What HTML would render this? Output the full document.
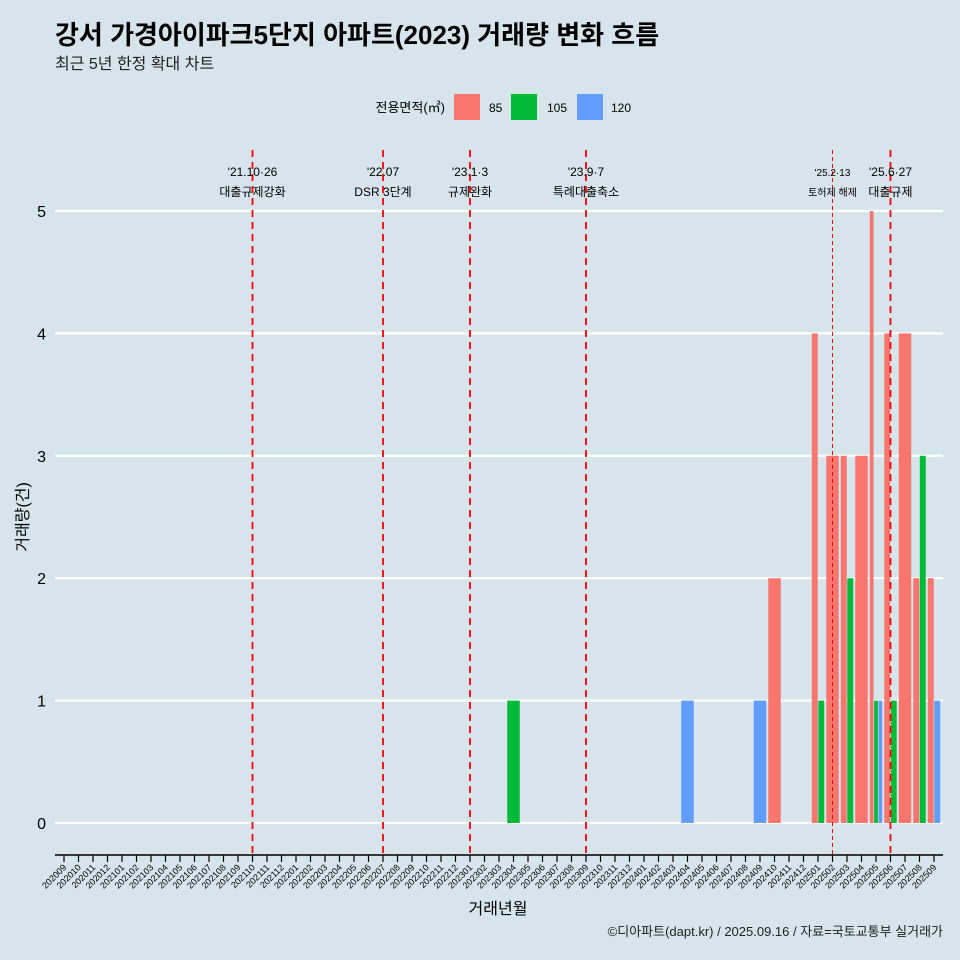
<!DOCTYPE html>
<html><head><meta charset="utf-8"><style>
body{margin:0;background:#d6e4eb}
svg{display:block;font-family:"Liberation Sans","Noto Sans CJK KR",sans-serif}
</style></head><body>
<svg id="c" width="960" height="960" viewBox="0 0 960 960">
<rect width="960" height="960" fill="#d6e4eb"/>
<text x="55" y="44" font-size="26" font-weight="bold" fill="#000">강서 가경아이파크5단지 아파트(2023) 거래량 변화 흐름</text>
<text x="55" y="69" font-size="16" fill="#222">최근 5년 한정 확대 차트</text>
<g>
<text x="445" y="112" font-size="13" text-anchor="end">전용면적(㎡)</text>
<rect x="454" y="94" width="26" height="26" fill="#f8766d"/>
<text x="489" y="112" font-size="12">85</text>
<rect x="511" y="94" width="26" height="26" fill="#00ba38"/>
<text x="547" y="112" font-size="12">105</text>
<rect x="577" y="94" width="26" height="26" fill="#619cff"/>
<text x="611" y="112" font-size="12">120</text>
</g>
<g id="grid"></g><g id="bars"></g><g id="events"></g><g id="xaxis"></g>
<text x="28" y="517" font-size="16" text-anchor="middle" transform="rotate(-90 28 517)">거래량(건)</text>
<text x="498" y="914" font-size="16" text-anchor="middle">거래년월</text>
<text x="943" y="936" font-size="13" text-anchor="end" fill="#222">©디아파트(dapt.kr) / 2025.09.16 / 자료=국토교통부 실거래가</text>
</svg>
<script>
const yTicks=[0,1,2,3,4,5];
const groups=['85','105','120'];
const colors={'85':'#f8766d','105':'#00ba38','120':'#619cff'};
const barMonths=['202304','202404','202409','202410','202501','202501','202502','202503','202503','202504','202505','202505','202505','202506','202506','202507','202508','202508','202509','202509'];
const barGroups=['105','120','120','85','85','105','85','85','105','85','85','105','120','85','105','85','85','105','85','120'];
const barValues=[1,1,1,2,4,1,3,3,2,3,5,1,1,4,1,4,2,3,2,1];
const eventMonths=['202110','202207','202301','202309','202502','202506'];
const eventLine1=["'21.10·26","'22.07","'23.1·3","'23.9·7","'25.2·13","'25.6·27"];
const eventLine2=['대출규제강화','DSR 3단계','규제완화','특례대출축소','토허제 해제','대출규제'];
const eventThin=[false,false,false,false,true,false];

const NS='http://www.w3.org/2000/svg';
function mk(t,a,p){const e=document.createElementNS(NS,t);for(const k in a)e.setAttribute(k,a[k]);p.appendChild(e);return e;}
const months=[];for(let y=2020,m=9;y*100+m<=202509;){months.push(String(y*100+m));m++;if(m>12){m=1;y++;}}
const x0=64,step=(934-64)/(months.length-1);
const xs=i=>x0+i*step;
const y=v=>823-v*122.4;
const grid=document.getElementById('grid');
yTicks.forEach(t=>{
 const l=mk('line',{x1:55,x2:943,y1:y(t),y2:y(t),stroke:'#fff','stroke-width':2.2},grid);
 
 const tx=mk('text',{x:46,y:y(t)+6,'font-size':16,'text-anchor':'end'},grid);tx.textContent=t;
 
});
const bars=document.getElementById('bars');const bw=step*0.9;
months.forEach((mo,i)=>{
 const idx=[];barMonths.forEach((b,j)=>{if(b===mo)idx.push(j);});
 idx.sort((a,b)=>groups.indexOf(barGroups[a])-groups.indexOf(barGroups[b]));
 const n=idx.length;
 idx.forEach((j,k)=>{
  const w=bw/n,left=xs(i)-bw/2+k*w;
  const r=mk('rect',{x:left+0.3,y:y(barValues[j]),width:w-0.6,height:y(0)-y(barValues[j]),fill:colors[barGroups[j]]},bars);
  
 });
});
const ev=document.getElementById('events');
eventMonths.forEach((mo,k)=>{
 const xx=xs(months.indexOf(mo));
 const l=mk('line',{x1:xx,x2:xx,y1:150,y2:855,stroke:'#ff0000','stroke-width':eventThin[k]?1:1.8,'stroke-dasharray':eventThin[k]?'4 3':'7 5'},ev);
 
 const fs=eventThin[k]?11:13;
 const t1=mk('text',{x:xx,y:176,'font-size':fs-1,'text-anchor':'middle'},ev);t1.textContent=eventLine1[k];
 
 const t2=mk('text',{x:xx,y:196,'font-size':fs-1,'text-anchor':'middle'},ev);t2.textContent=eventLine2[k];
 
});
const xa=document.getElementById('xaxis');
const ax=mk('line',{x1:55,x2:943,y1:855,y2:855,stroke:'#000','stroke-width':1.5},xa);

months.forEach((mo,i)=>{
 const xx=xs(i);
 const t=mk('line',{x1:xx,x2:xx,y1:855,y2:862,stroke:'#000','stroke-width':1.2},xa);
 
 const tx=mk('text',{x:xx+3,y:868,'font-size':9,'text-anchor':'end',transform:`rotate(-45 ${xx+3} 868)`},xa);tx.textContent=mo;
 
});
</script>
</body></html>
